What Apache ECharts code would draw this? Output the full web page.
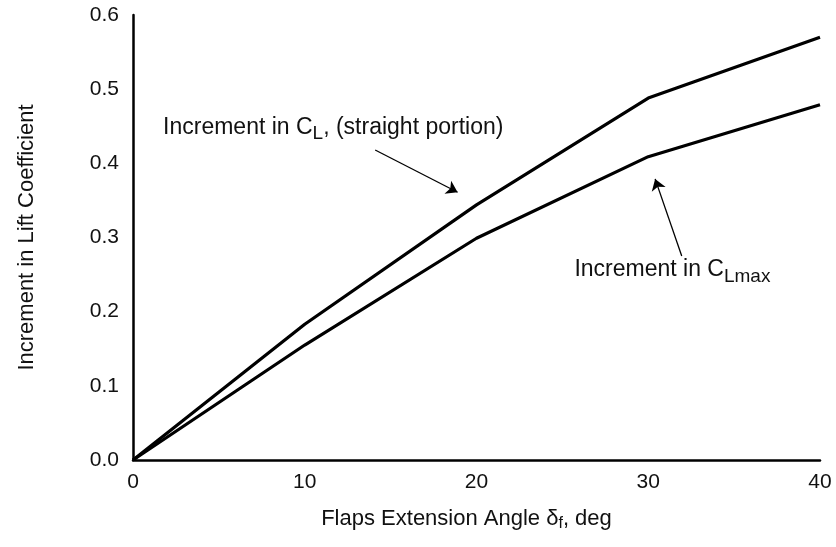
<!DOCTYPE html>
<html>
<head>
<meta charset="utf-8">
<script src="https://cdn.jsdelivr.net/npm/echarts@6/dist/echarts.min.js"></script>
<style>
  html, body { margin: 0; padding: 0; background: #fff; }
  #chart { width: 836px; height: 547px; }
</style>
</head>
<body>
<div id="chart"></div>
<script>
// Flap deflection angle, deg
const flapAngles = [0, 10, 20, 30, 40];
// Increment in lift coefficient, straight (linear) portion of the lift curve
const deltaCL = [0, 0.183, 0.344, 0.488, 0.570];
// Increment in maximum lift coefficient
const deltaCLmax = [0, 0.155, 0.299, 0.409, 0.479];
// Axis tick values
const xTicks = [0, 10, 20, 30, 40];
const yTicks = [0.0, 0.1, 0.2, 0.3, 0.4, 0.5, 0.6];

const FONT = '"Liberation Sans", Arial, Helvetica, sans-serif';
const chart = echarts.init(document.getElementById('chart'), null, { renderer: 'canvas' });

const pairs = (xs, ys) => xs.map((x, i) => [x, ys[i]]);

const textMain = { fontFamily: FONT, fontSize: 23, color: '#111' };
const textSub = { fontFamily: FONT, fontSize: 19, color: '#111', padding: [13, 0, 0, 0] };

// Thin leader line with a filled arrowhead at its end
const arrowLine = (from, to) => ({
  silent: true,
  symbol: ['none', 'arrow'],
  symbolSize: 11,
  label: { show: false },
  emphasis: { disabled: true },
  lineStyle: { color: '#000', width: 1.3, type: 'solid' },
  itemStyle: { color: '#000' },
  data: [[{ coord: from }, { coord: to }]]
});

// Free-standing text anchored at a data coordinate
const noteLabel = (at, formatter, rich) => ({
  silent: true,
  symbol: 'circle',
  symbolSize: 0,
  data: [{
    coord: at,
    label: { show: true, position: 'right', distance: 0, formatter, rich }
  }]
});

const option = {
  animation: false,
  backgroundColor: '#fff',
  grid: { left: 133, right: 16, top: 15, bottom: 87, containLabel: false },
  xAxis: {
    type: 'value',
    min: xTicks[0],
    max: xTicks[xTicks.length - 1],
    interval: 10,
    axisLine: { show: true, lineStyle: { color: '#000', width: 2.5 } },
    axisTick: { show: false },
    splitLine: { show: false },
    axisLabel: { fontFamily: FONT, fontSize: 21, color: '#111', margin: 12 },
    name: 'Flaps Extension Angle δ{sub|f}, deg',
    nameLocation: 'middle',
    nameGap: 45,
    nameTextStyle: {
      fontFamily: FONT, fontSize: 22, color: '#111',
      padding: [0, 20, 0, 0],
      rich: { sub: { fontFamily: FONT, fontSize: 16, color: '#111', padding: [11, 0, 0, 0] } }
    }
  },
  yAxis: {
    type: 'value',
    min: yTicks[0],
    max: yTicks[yTicks.length - 1],
    interval: 0.1,
    axisLine: { show: true, lineStyle: { color: '#000', width: 2.5 } },
    axisTick: { show: false },
    splitLine: { show: false },
    axisLabel: {
      fontFamily: FONT, fontSize: 21, color: '#111', margin: 14,
      formatter: v => v.toFixed(1)
    },
    name: 'Increment in Lift Coefficient',
    nameLocation: 'middle',
    nameGap: 95,
    nameTextStyle: { fontFamily: FONT, fontSize: 22, color: '#111' }
  },
  series: [
    {
      name: 'Increment in CL (straight portion)',
      type: 'line',
      data: pairs(flapAngles, deltaCL),
      showSymbol: false,
      lineStyle: { color: '#000', width: 3.2 },
      z: 3,
      markLine: arrowLine([14.1, 0.418], [18.9, 0.361]),
      markPoint: noteLabel([1.75, 0.448],
        '{a|Increment in C}{s|L}{a|, (straight portion)}',
        { a: textMain, s: textSub })
    },
    {
      name: 'Increment in CLmax',
      type: 'line',
      data: pairs(flapAngles, deltaCLmax),
      showSymbol: false,
      lineStyle: { color: '#000', width: 3.2 },
      z: 3,
      markLine: arrowLine([31.95, 0.275], [30.4, 0.379]),
      markPoint: noteLabel([25.7, 0.256],
        '{a|Increment in C}{s|Lmax}',
        { a: textMain, s: textSub })
    }
  ]
};

chart.setOption(option);
</script>
</body>
</html>
